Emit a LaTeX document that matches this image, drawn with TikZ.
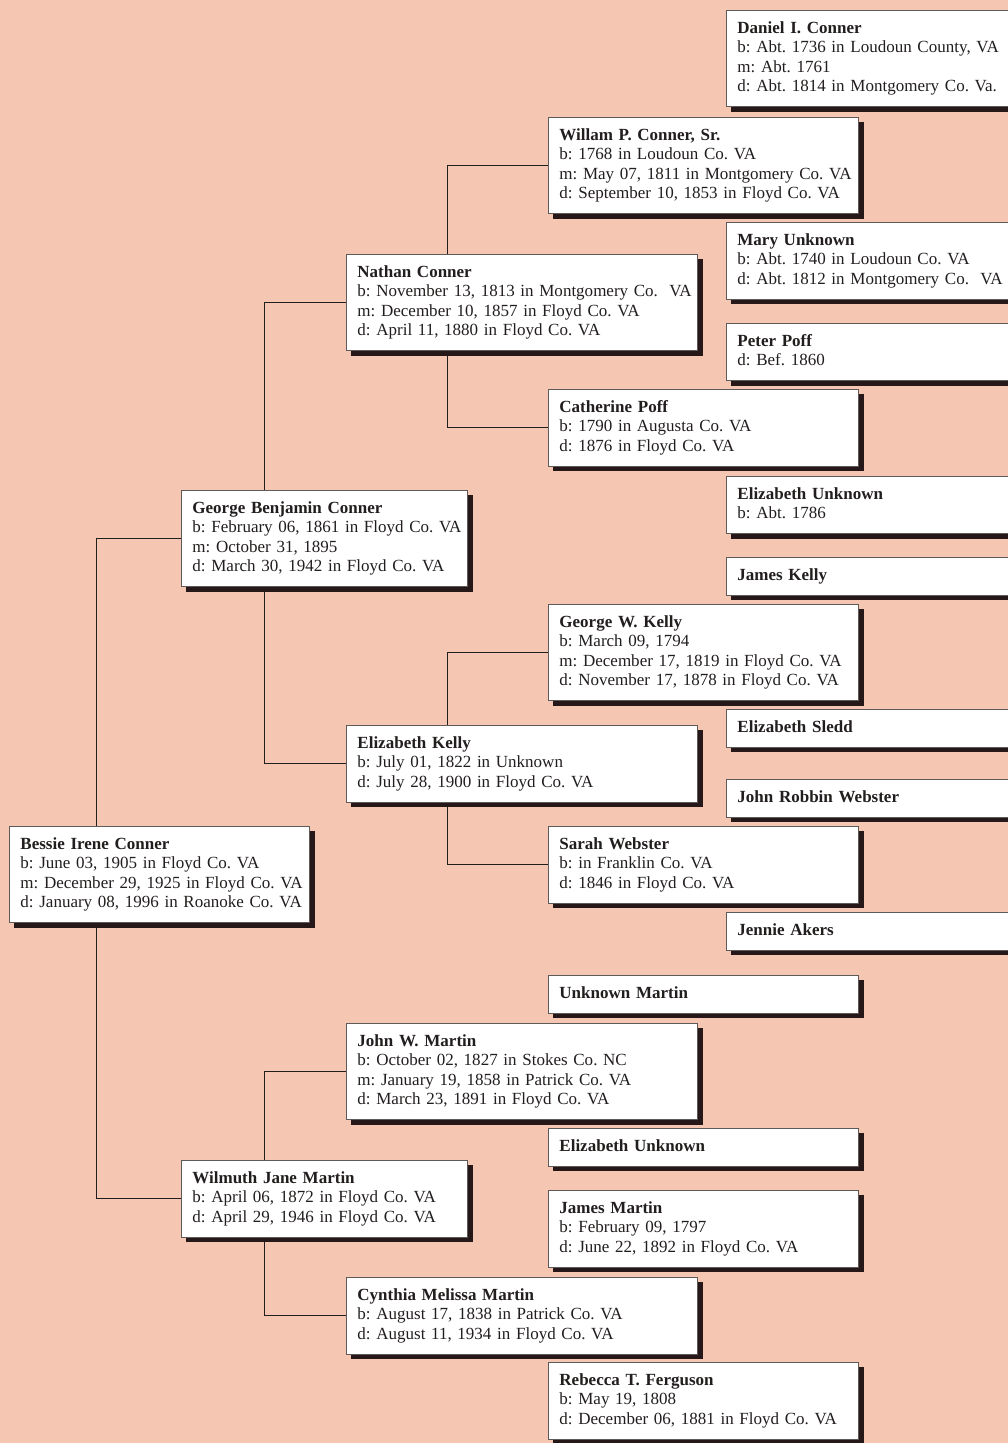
\documentclass[tikz,border=0pt]{standalone}
\usepackage{fontspec}
\setmainfont{Liberation Serif}
\usetikzlibrary{shadows,backgrounds}
\frenchspacing

\definecolor{peach}{RGB}{245,198,178}
\definecolor{shade}{RGB}{38,24,24}
\definecolor{rim}{RGB}{95,90,90}
\definecolor{ink}{RGB}{35,30,30}

\tikzset{
  person/.style={draw=rim, line width=0.6pt, fill=white, anchor=north west,
    inner xsep=0pt, inner ysep=6.5pt, align=left, text=ink,
    font=\fontsize{12.1}{13.87}\selectfont,
    execute at begin node={\frenchspacing\leftskip=0.275cm\rightskip=-1cm plus 1fil\relax\strut},
    execute at end node={\strut},
    drop shadow={shadow xshift=0.125cm, shadow yshift=-0.125cm, fill=shade, opacity=1}},
  gen0/.style={person, text width=7.5cm},
  gen1/.style={person, text width=7.15cm},
  gen2/.style={person, text width=8.775cm},
  gen3/.style={person, text width=7.75cm},
  gen4/.style={person, text width=7.5cm},
  link/.style={draw=ink, line width=0.7pt}
}

\begin{document}
\begin{tikzpicture}[x=0.025cm, y=-0.025cm]
  \useasboundingbox (0,0) rectangle (1008,1443);
  \clip (0,0) rectangle (1008,1443);

  % great-great-grandparents
  \node[gen4] (daniel) at (726,10) {\textbf{Daniel I. Conner}\\b: Abt. 1736 in Loudoun County, VA\\m: Abt. 1761\\d: Abt. 1814 in Montgomery Co. Va.};
  \node[gen4] (mary) at (726,222) {\textbf{Mary Unknown}\\b: Abt. 1740 in Loudoun Co. VA\\d: Abt. 1812 in Montgomery Co.\ \ VA};
  \node[gen4] (peter) at (726,323) {\textbf{Peter Poff}\\d: Bef. 1860};
  \node[gen4] (elizunk) at (726,476) {\textbf{Elizabeth Unknown}\\b: Abt. 1786};
  \node[gen4] (jkelly) at (726,557) {\textbf{James Kelly}};
  \node[gen4] (sledd) at (726,709) {\textbf{Elizabeth Sledd}};
  \node[gen4] (jrwebster) at (726,779) {\textbf{John Robbin Webster}};
  \node[gen4] (akers) at (726,912) {\textbf{Jennie Akers}};

  % great-grandparents
  \node[gen3] (willam) at (548,117) {\textbf{Willam P. Conner, Sr.}\\b: 1768 in Loudoun Co. VA\\m: May 07, 1811 in Montgomery Co. VA\\d: September 10, 1853 in Floyd Co. VA};
  \node[gen3] (cpoff) at (548,389) {\textbf{Catherine Poff}\\b: 1790 in Augusta Co. VA\\d: 1876 in Floyd Co. VA};
  \node[gen3] (gwkelly) at (548,604) {\textbf{George W. Kelly}\\b: March 09, 1794\\m: December 17, 1819 in Floyd Co. VA\\d: November 17, 1878 in Floyd Co. VA};
  \node[gen3] (swebster) at (548,826) {\textbf{Sarah Webster}\\b: in Franklin Co. VA\\d: 1846 in Floyd Co. VA};
  \node[gen3] (umartin) at (548,975) {\textbf{Unknown Martin}};
  \node[gen3] (elizunkm) at (548,1128) {\textbf{Elizabeth Unknown}};
  \node[gen3] (jamesm) at (548,1190) {\textbf{James Martin}\\b: February 09, 1797\\d: June 22, 1892 in Floyd Co. VA};
  \node[gen3] (rebecca) at (548,1362) {\textbf{Rebecca T. Ferguson}\\b: May 19, 1808\\d: December 06, 1881 in Floyd Co. VA};

  % grandparents
  \node[gen2] (nathan) at (346,254) {\textbf{Nathan Conner}\\b: November 13, 1813 in Montgomery Co.\ \ VA\\m: December 10, 1857 in Floyd Co. VA\\d: April 11, 1880 in Floyd Co. VA};
  \node[gen2] (ekelly) at (346,725) {\textbf{Elizabeth Kelly}\\b: July 01, 1822 in Unknown\\d: July 28, 1900 in Floyd Co. VA};
  \node[gen2] (jwmartin) at (346,1023) {\textbf{John W. Martin}\\b: October 02, 1827 in Stokes Co. NC\\m: January 19, 1858 in Patrick Co. VA\\d: March 23, 1891 in Floyd Co. VA};
  \node[gen2] (cynthia) at (346,1277) {\textbf{Cynthia Melissa Martin}\\b: August 17, 1838 in Patrick Co. VA\\d: August 11, 1934 in Floyd Co. VA};

  % parents
  \node[gen1] (george) at (181,490) {\textbf{George Benjamin Conner}\\b: February 06, 1861 in Floyd Co. VA\\m: October 31, 1895\\d: March 30, 1942 in Floyd Co. VA};
  \node[gen1] (wilmuth) at (181,1160) {\textbf{Wilmuth Jane Martin}\\b: April 06, 1872 in Floyd Co. VA\\d: April 29, 1946 in Floyd Co. VA};

  \node[gen0] (bessie) at (9,826) {\textbf{Bessie Irene Conner}\\b: June 03, 1905 in Floyd Co. VA\\m: December 29, 1925 in Floyd Co. VA\\d: January 08, 1996 in Roanoke Co. VA};

  \begin{pgfonlayer}{background}
    \fill[peach] (0,0) rectangle (1008,1443);
    \draw[link] (george.west) -- ++(-85,0) |- (wilmuth.west);
    \draw[link] (nathan.west) -- ++(-82,0) |- (ekelly.west);
    \draw[link] (jwmartin.west) -- ++(-82,0) |- (cynthia.west);
    \draw[link] (willam.west) -- ++(-101,0) |- (cpoff.west);
    \draw[link] (gwkelly.west) -- ++(-101,0) |- (swebster.west);
  \end{pgfonlayer}
\end{tikzpicture}
\end{document}
